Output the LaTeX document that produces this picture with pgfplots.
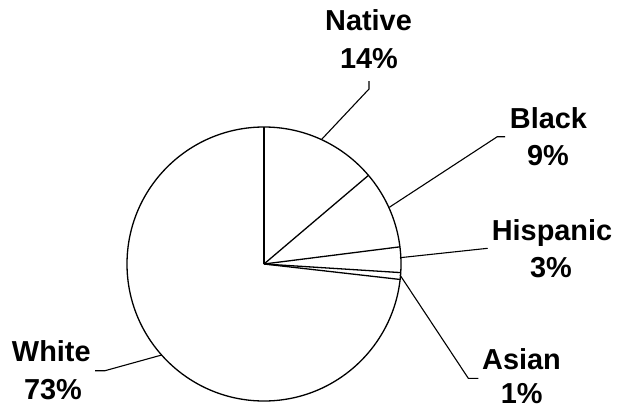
\documentclass[border=0pt]{standalone}
\usepackage{fontspec}
\setmainfont{Liberation Sans}
\usepackage{pgfplots}
\pgfplotsset{compat=1.18}
\newcommand\lbl{\fontsize{29}{32}\selectfont\bfseries}
% shares (%): Native 13.8, Black 9.2, Hispanic 3.0, Asian 0.8, White 73.2
% cumulative boundaries (clockwise from top): 0, 13.8, 23.0, 26.0, 26.8
\begin{document}
\begin{tikzpicture}
\begin{axis}[scale only axis, width=628bp, height=408bp,
  xmin=0, xmax=628, ymin=0, ymax=408, y dir=reverse,
  hide axis, clip=false]
\path (axis cs:0,0) rectangle (axis cs:628,408);
\draw[line width=1.3bp] (axis cs:264,264) circle[radius=137bp];
\pgfplotsinvokeforeach{0,13.8,23.0,26.0,26.8}{
  \draw[line width=1.3bp] (axis cs:264,264) -- ++({90-3.6*#1}:137bp);
}
% leader lines
\draw[line width=1.1bp] (axis cs:321.7,139.3) -- (axis cs:369,89) -- (axis cs:369,81);
\draw[line width=1.1bp] (axis cs:389.3,207.3) -- (axis cs:497.3,136.7) -- (axis cs:505,136.7);
\draw[line width=1.1bp] (axis cs:400,257.7) -- (axis cs:487.7,248.3);
\draw[line width=1.1bp] (axis cs:400,275) -- (axis cs:468.3,378.3) -- (axis cs:478.3,378.3);
\draw[line width=1.1bp] (axis cs:161.7,355) -- (axis cs:105,370.7) -- (axis cs:95,370.7);
% labels
\node[anchor=base, font=\lbl, inner sep=0pt] at (axis cs:368.5,30.7) {Native};
\node[anchor=base, font=\lbl, inner sep=0pt] at (axis cs:369,68.3) {14\%};
\node[anchor=base, font=\lbl, inner sep=0pt] at (axis cs:548.5,128.3) {Black};
\node[anchor=base, font=\lbl, inner sep=0pt] at (axis cs:548,165.7) {9\%};
\node[anchor=base, font=\lbl, inner sep=0pt] at (axis cs:552,240.7) {Hispanic};
\node[anchor=base, font=\lbl, inner sep=0pt] at (axis cs:551,277.7) {3\%};
\node[anchor=base, font=\lbl, inner sep=0pt] at (axis cs:521.5,369.3) {Asian};
\node[anchor=base, font=\lbl, inner sep=0pt] at (axis cs:521.7,403) {1\%};
\node[anchor=base, font=\lbl, inner sep=0pt] at (axis cs:51.3,361.7) {White};
\node[anchor=base, font=\lbl, inner sep=0pt] at (axis cs:53,399.3) {73\%};
\end{axis}
\end{tikzpicture}
\end{document}
